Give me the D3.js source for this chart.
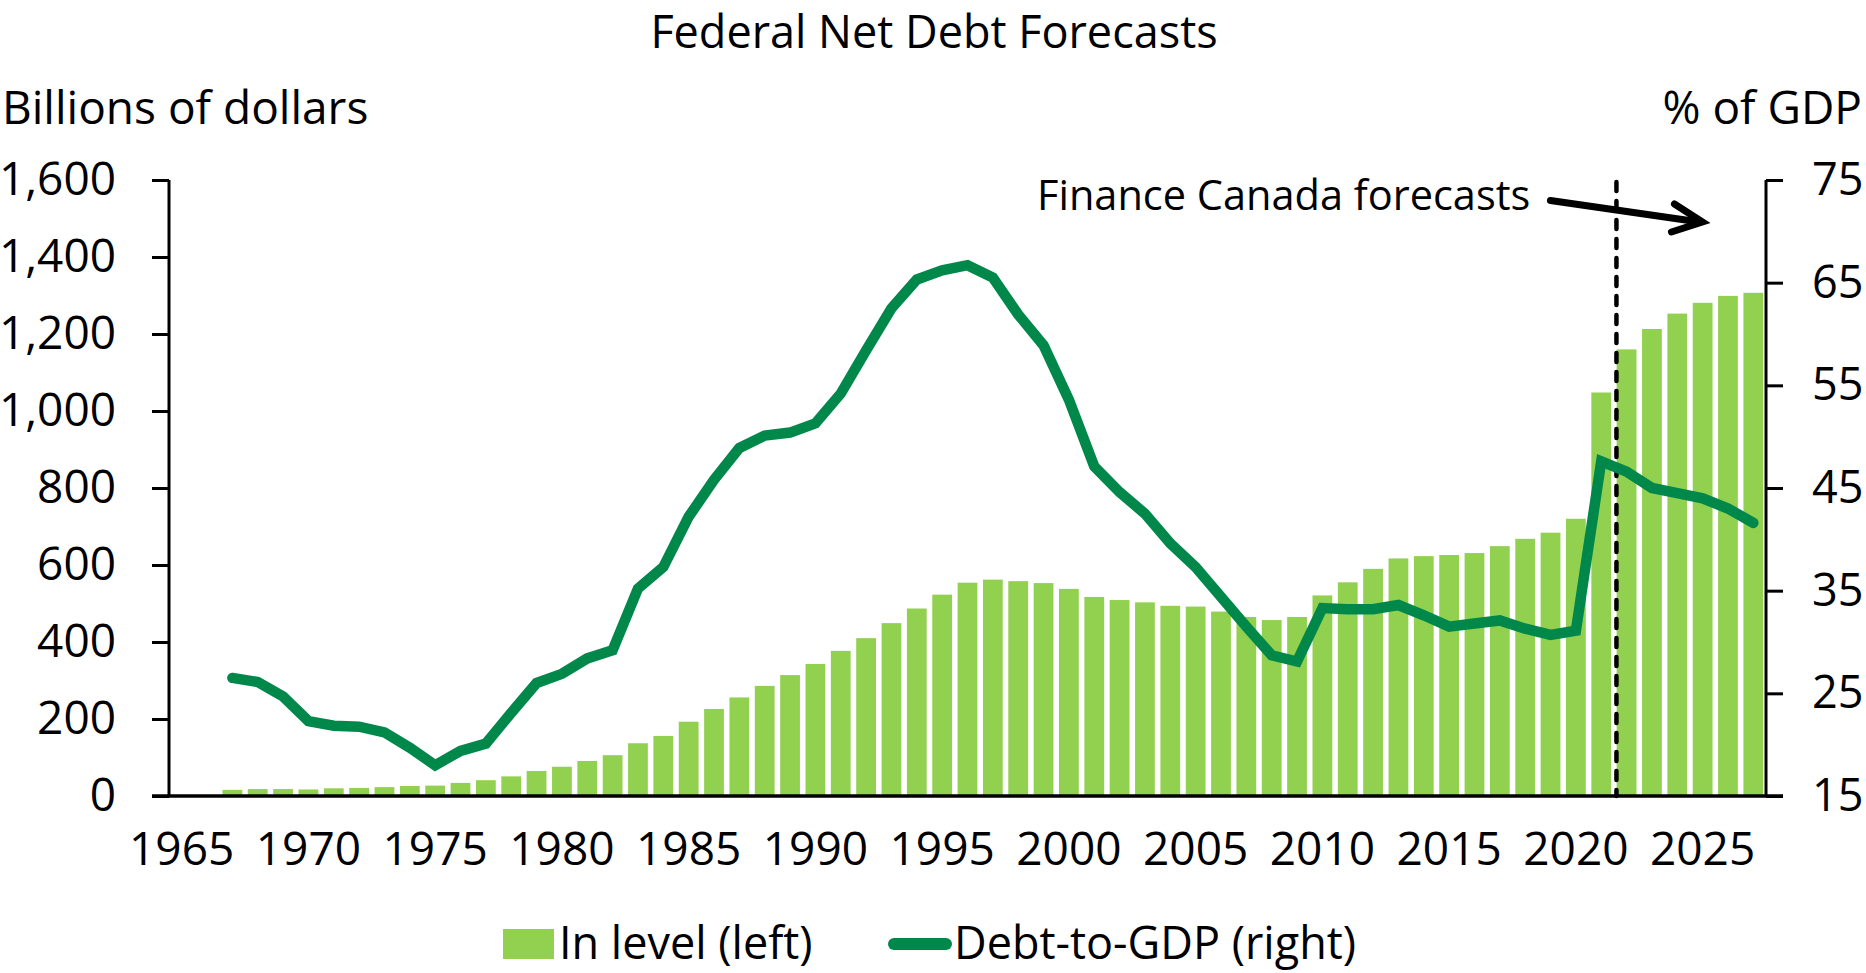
<!DOCTYPE html>
<html>
<head>
<meta charset="utf-8">
<script src="https://cdn.jsdelivr.net/npm/d3@7"></script>
<style>
  html, body { margin: 0; padding: 0; background: #fff; }
  svg { display: block; }
  text { font-family: "Open Sans", "Noto Sans", sans-serif; fill: #000; }
</style>
</head>
<body>
<svg id="chart" width="1866" height="973"></svg>
<script>
// Fiscal years shown on the axis (1965–1966 are empty slots)
const axisYears = d3.range(1965, 2028);
const tickYears = [1965, 1970, 1975, 1980, 1985, 1990, 1995, 2000, 2005, 2010, 2015, 2020, 2025];

// Years with data
const years = d3.range(1967, 2028);

// Federal net debt, billions of dollars
const netDebt = [
  16, 18, 18, 17, 20, 21, 23, 26, 27, 34,
  41, 51, 65, 76, 91, 106, 137, 156, 193, 226,
  256, 286, 314, 343, 377, 410, 449, 487, 523, 554,
  562, 558, 553, 538, 517, 509, 503, 494, 492, 479,
  465, 457, 465, 521, 555, 590, 617, 623, 626, 631,
  649, 668, 684, 720, 1048, 1160, 1213, 1253, 1281, 1299,
  1307
];

// Federal net debt, % of GDP
const debtToGdp = [
  26.5, 26.1, 24.7, 22.3, 21.85, 21.75, 21.2, 19.7, 18.0, 19.4,
  20.1, 23.1, 26.0, 26.9, 28.4, 29.2, 35.2, 37.3, 42.2, 45.8,
  48.9, 50.1, 50.4, 51.3, 54.2, 58.4, 62.5, 65.3, 66.2, 66.7,
  65.5, 61.9, 58.9, 53.6, 47.1, 44.6, 42.5, 39.6, 37.3, 34.4,
  31.5, 28.7, 28.1, 33.3, 33.2, 33.2, 33.6, 32.6, 31.5, 31.8,
  32.1, 31.3, 30.7, 31.1, 47.6, 46.6, 45.0, 44.5, 44.0, 43.0,
  41.6
];

const leftTicks = [0, 200, 400, 600, 800, 1000, 1200, 1400, 1600];
const rightTicks = [15, 25, 35, 45, 55, 65, 75];
const forecastStart = 2022;

const BAR = "#92D050";
const LINE = "#00884B";
const FONT = 46;

const svg = d3.select("#chart");

const plot = { left: 169, right: 1766, top: 180, bottom: 796 };

const x = d3.scaleBand()
  .domain(axisYears)
  .range([plot.left, plot.right])
  .paddingInner(0.22)
  .paddingOuter(0.11);

const yL = d3.scaleLinear().domain([0, 1600]).range([plot.bottom, plot.top]);
const yR = d3.scaleLinear().domain([15, 75]).range([plot.bottom, plot.top]);

// Bars: net debt level
svg.append("g")
  .selectAll("rect")
  .data(years)
  .join("rect")
  .attr("x", (d) => x(d))
  .attr("width", x.bandwidth())
  .attr("y", (d, i) => yL(netDebt[i]))
  .attr("height", (d, i) => yL(0) - yL(netDebt[i]))
  .attr("fill", BAR);

// Forecast divider, just after the last actual year
const step = x.step();
const xDiv = x(forecastStart) - (x.paddingInner() * step) / 2 + 0.1 * step;
svg.append("line")
  .attr("x1", xDiv).attr("x2", xDiv)
  .attr("y1", plot.top + 2).attr("y2", plot.bottom)
  .attr("stroke", "#000")
  .attr("stroke-width", 4.5)
  .attr("stroke-linecap", "round")
  .attr("stroke-dasharray", "9,10");

// Debt-to-GDP line
const line = d3.line()
  .x((d, i) => x(years[i]) + x.bandwidth() / 2)
  .y((d) => yR(d));

svg.append("path")
  .datum(debtToGdp)
  .attr("d", line)
  .attr("fill", "none")
  .attr("stroke", LINE)
  .attr("stroke-width", 10.5)
  .attr("stroke-linecap", "round")
  .attr("stroke-linejoin", "miter");

// Left axis
const gL = svg.append("g")
  .attr("transform", `translate(${plot.left},0)`)
  .call(d3.axisLeft(yL).tickValues(leftTicks).tickFormat(d3.format(",")).tickSize(17).tickPadding(36));
// Right axis
const gR = svg.append("g")
  .attr("transform", `translate(${plot.right},0)`)
  .call(d3.axisRight(yR).tickValues(rightTicks).tickSize(17).tickPadding(29));

[gL, gR].forEach((g) => {
  g.select(".domain").attr("stroke", "#000").attr("stroke-width", 3)
    .attr("d", `M0,${plot.top}V${plot.bottom}`);
  g.selectAll(".tick line").attr("stroke", "#000").attr("stroke-width", 3);
  g.selectAll(".tick text").attr("font-size", FONT).attr("font-family", null).attr("fill", "#000");
});
gR.selectAll(".tick text").attr("font-size", 45);

// Bottom axis
const gB = svg.append("g")
  .attr("transform", `translate(0,${plot.bottom})`)
  .call(d3.axisBottom(x).tickValues(tickYears).tickSize(0).tickPadding(0));
gB.select(".domain").remove();
gB.append("line")
  .attr("x1", plot.left - 17).attr("x2", plot.right + 17)
  .attr("stroke", "#000").attr("stroke-width", 3.5);
gB.selectAll(".tick text")
  .attr("font-size", FONT).attr("font-family", null).attr("fill", "#000")
  .attr("dy", null).attr("y", 69);

// Titles
svg.append("text")
  .attr("x", 934).attr("y", 48)
  .attr("text-anchor", "middle")
  .attr("font-size", 45)
  .text("Federal Net Debt Forecasts");
svg.append("text")
  .attr("x", 2).attr("y", 124)
  .attr("font-size", FONT)
  .text("Billions of dollars");
svg.append("text")
  .attr("x", 1862).attr("y", 124)
  .attr("text-anchor", "end")
  .attr("font-size", FONT)
  .text("% of GDP");

// Forecast annotation with arrow
svg.append("text")
  .attr("x", 1037).attr("y", 210)
  .attr("font-size", 41.5)
  .text("Finance Canada forecasts");
const arrow = svg.append("g")
  .attr("stroke", "#000").attr("stroke-width", 7)
  .attr("stroke-linecap", "round").attr("fill", "none");
const tip = [xDiv + 86, 222];
arrow.append("line")
  .attr("x1", xDiv - 66).attr("y1", 200.5)
  .attr("x2", tip[0] - 3).attr("y2", tip[1]);
arrow.append("polyline")
  .attr("stroke-linejoin", "miter")
  .attr("points", `${tip[0] - 28},${tip[1] - 18} ${tip[0]},${tip[1]} ${tip[0] - 31},${tip[1] + 10}`);

// Legend
const lg = svg.append("g");
lg.append("rect")
  .attr("x", 503).attr("y", 929).attr("width", 51).attr("height", 30)
  .attr("fill", BAR);
lg.append("text")
  .attr("x", 559).attr("y", 959)
  .attr("font-size", 45)
  .text("In level (left)");
lg.append("line")
  .attr("x1", 894).attr("x2", 946).attr("y1", 944).attr("y2", 944)
  .attr("stroke", LINE).attr("stroke-width", 12).attr("stroke-linecap", "round");
lg.append("text")
  .attr("x", 954).attr("y", 959)
  .attr("font-size", 45)
  .text("Debt-to-GDP (right)");
</script>
</body>
</html>
